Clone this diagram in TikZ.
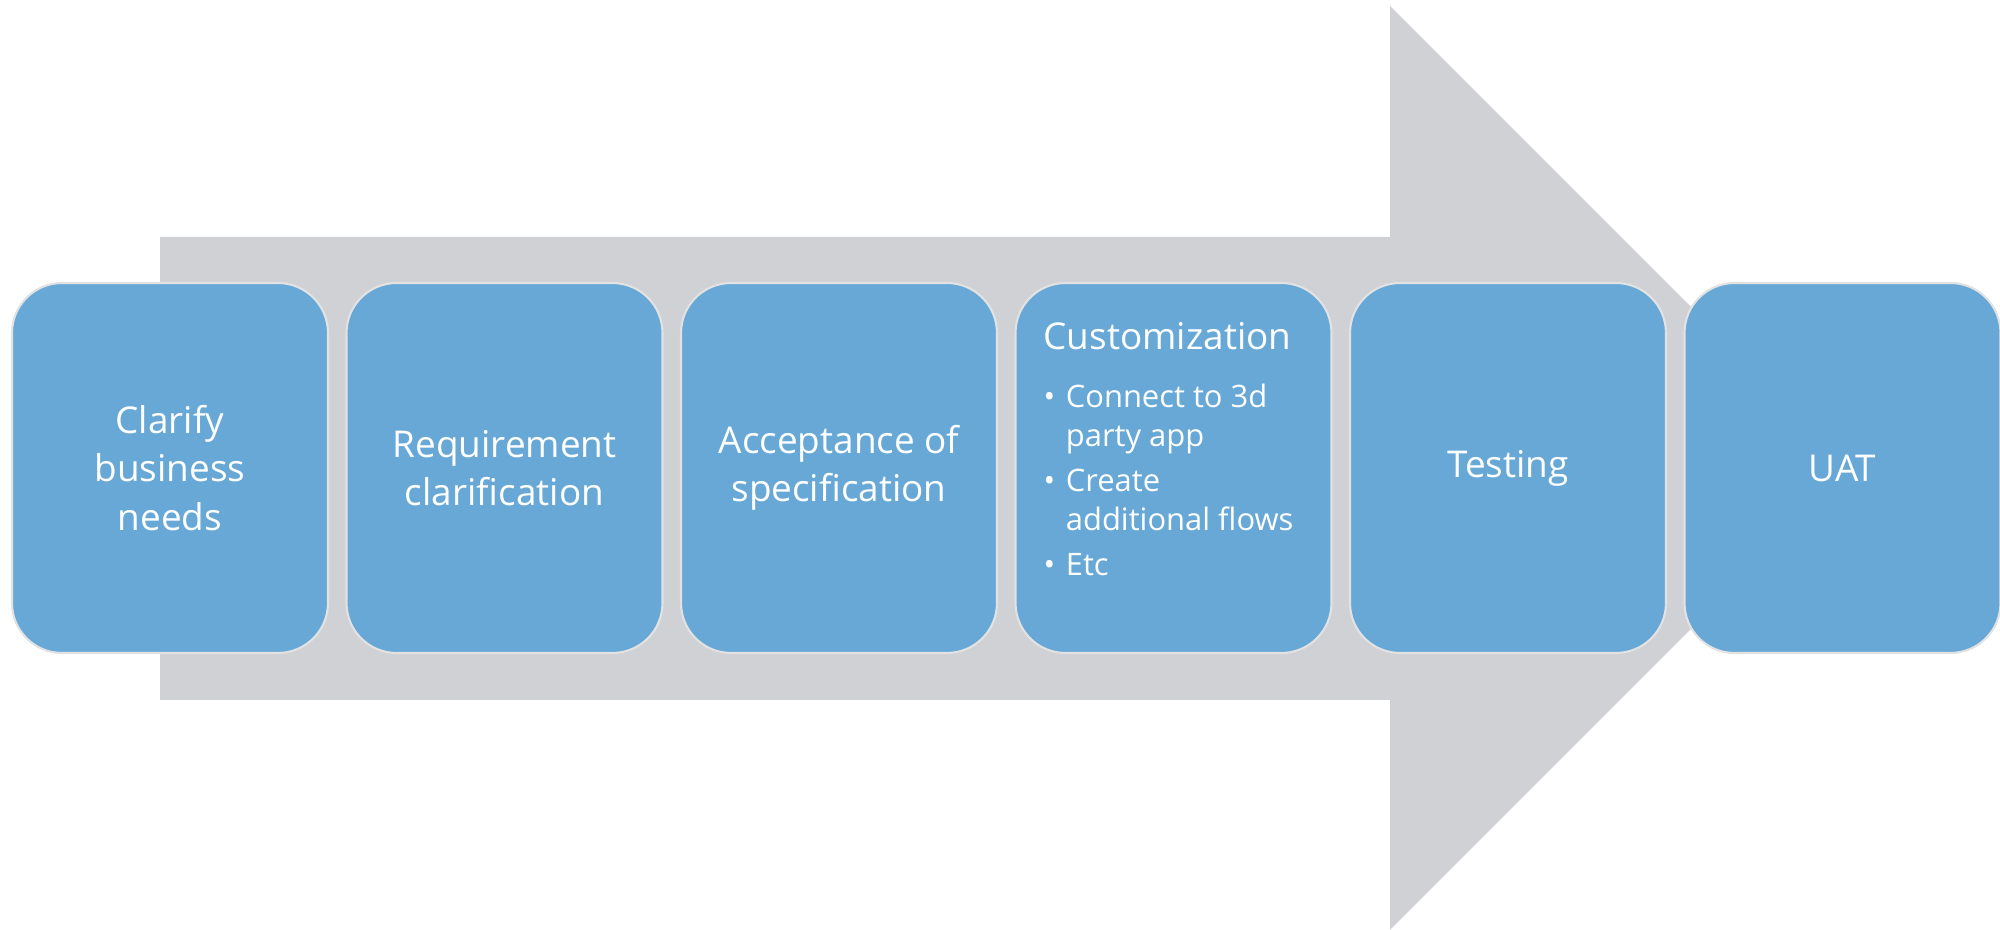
\documentclass[tikz,border=0pt]{standalone}
\usepackage{fontspec}
\setmainfont{Open Sans}
\definecolor{shaftgray}{RGB}{208,209,213}
\definecolor{stageblue}{RGB}{103,168,215}
\definecolor{stageline}{RGB}{226,226,226}
\tikzset{
  stage/.style={draw=stageline, line width=0.6pt, fill=stageblue, rounded corners=5mm,
    minimum width=31.6mm, minimum height=37mm, inner sep=0pt,
    text=white, align=center, font=\fontsize{10.5}{13.7}\selectfont},
  bulletlist/.style={text=white, inner sep=0pt, anchor=base west, font=\fontsize{8.8}{11.1}\selectfont}
}
\newcommand{\bul}{\makebox[6.3pt][l]{•}}
\begin{document}
\begin{tikzpicture}[x=0.1mm, y=-0.1mm]
\useasboundingbox (0,0) rectangle (2000,930);

\fill[shaftgray] (160,237) -- (1390,237) -- (1390,6) -- (1852,468)
  -- (1390,930) -- (1390,700) -- (160,700) -- cycle;

\node[stage] (clarify) at (170,468) {Clarify\\business\\needs};
\node[stage] (require) at (504.5,468) {Requirement\\clarification};
\node[stage] (accept)  at (839,468) {Acceptance of\\specification};
\node[stage] (custom)  at (1173.5,468) {};
\node[stage] (testing) at (1508,468) {Testing};
\node[stage] (uat)     at (1842.5,468) {UAT};

\node[bulletlist, font=\fontsize{10.5}{13.7}\selectfont] (customtitle) at (1043,350) {Customization};
\node[bulletlist] (customitems) at (1043,408) {%
  \begin{tabular}[t]{@{}l@{}}
  \bul Connect to 3d\\
  \hspace*{6.3pt}party app\\[1.7pt]
  \bul Create\\
  \hspace*{6.3pt}additional flows\\[1.7pt]
  \bul Etc
  \end{tabular}};

\end{tikzpicture}
\end{document}
